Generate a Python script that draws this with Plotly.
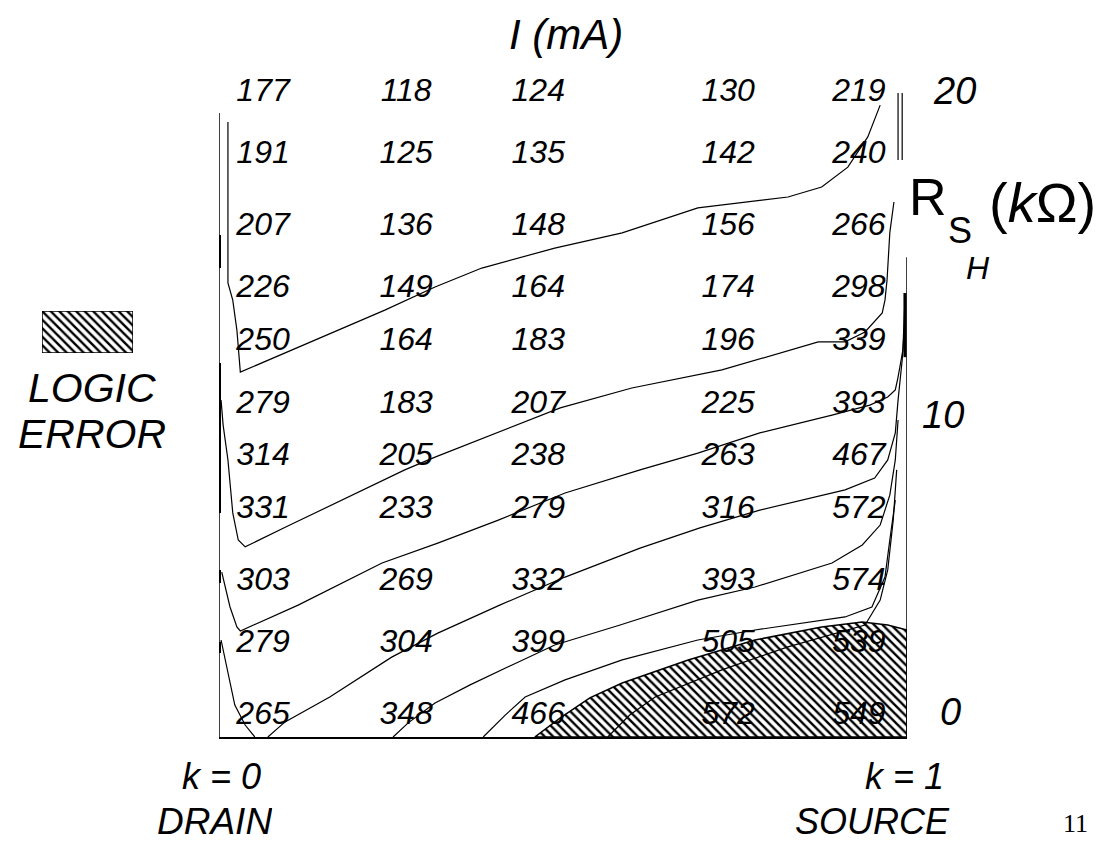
import plotly.graph_objects as go

# ---------------- data ----------------
# position of each column of numbers along k (0 = drain, 1 = source)
k_cols = [0.064, 0.272, 0.464, 0.740, 0.930]
# R_S (kOhm) of each row of numbers, top to bottom
rs_rows = [20, 18, 15.7, 13.7, 12, 10, 8.3, 6.6, 4.3, 2.3, 0]

# I (mA) values, one list per column, top row first
col_1 = [177, 191, 207, 226, 250, 279, 314, 331, 303, 279, 265]
col_2 = [118, 125, 136, 149, 164, 183, 205, 233, 269, 304, 348]
col_3 = [124, 135, 148, 164, 183, 207, 238, 279, 332, 399, 466]
col_4 = [130, 142, 156, 174, 196, 225, 263, 316, 393, 505, 572]
col_5 = [219, 240, 266, 298, 339, 393, 467, 572, 574, 539, 549]

# R_S axis labels
rs_ticks = [0, 10, 20]

# contour lines (k, R_S)
line_a_k = [0.013, 0.013, 0.020, 0.026, 0.031, 0.106, 0.241, 0.314, 0.382, 0.488, 0.586, 0.696, 0.827, 0.876, 0.914, 0.943, 0.961]
line_a_r = [19.07, 13.90, 13.35, 12.39, 11.04, 11.75, 13.03, 13.77, 14.38, 15.02, 15.51, 16.31, 16.66, 16.98, 17.62, 18.59, 19.61]

line_b_k = [0.003, 0.006, 0.013, 0.020, 0.028, 0.038, 0.103, 0.270, 0.314, 0.496, 0.600, 0.731, 0.871, 0.910, 0.939, 0.964, 0.968, 0.971, 0.975, 0.981]
line_b_r = [10.14, 9.34, 8.22, 6.52, 5.65, 5.43, 6.13, 7.90, 8.31, 9.89, 10.53, 11.11, 12.01, 12.01, 12.33, 12.94, 13.35, 14.00, 15.51, 16.50]

line_c_k = [0.004, 0.016, 0.026, 0.031, 0.115, 0.237, 0.318, 0.406, 0.503, 0.612, 0.696, 0.786, 0.891, 0.946, 0.972, 0.983, 0.987, 0.994, 0.997]
line_c_r = [4.62, 3.50, 2.86, 2.73, 3.56, 4.91, 5.55, 6.29, 7.16, 7.90, 8.44, 9.09, 9.66, 9.98, 10.24, 10.47, 10.88, 11.75, 13.35]

line_d_k = [0.071, 0.096, 0.161, 0.251, 0.318, 0.408, 0.503, 0.612, 0.699, 0.786, 0.910, 0.953, 0.972, 0.983, 0.987, 0.993, 0.997]
line_d_r = [-0.674, -0.19, 0.61, 1.89, 2.66, 3.56, 4.46, 5.39, 6.04, 6.61, 7.26, 7.64, 8.22, 9.09, 10.14, 11.43, 12.71]

line_e_k = [0.253, 0.275, 0.314, 0.365, 0.426, 0.488, 0.583, 0.696, 0.779, 0.891, 0.935, 0.961, 0.975, 0.983, 0.987]
line_e_r = [-0.674, -0.22, 0.42, 1.00, 1.64, 2.28, 2.92, 3.72, 4.14, 4.91, 5.49, 6.13, 7.09, 8.22, 9.50]

line_f_k = [0.384, 0.416, 0.445, 0.503, 0.586, 0.696, 0.779, 0.910, 0.949, 0.968, 0.975, 0.983]
line_f_r = [-0.674, 0.03, 0.61, 1.16, 1.80, 2.44, 2.76, 3.18, 3.50, 4.46, 5.65, 6.93]

line_g_k = [0.565, 0.597, 0.634, 0.731, 0.827, 0.900, 0.939, 0.961, 0.972, 0.980, 0.985]
line_g_r = [-0.674, 0.03, 0.61, 1.48, 2.22, 2.66, 2.92, 3.72, 4.69, 6.29, 7.90]

line_i_k = [0.003, 0.013, 0.023, 0.038, 0.052]
line_i_r = [2.44, 1.41, 0.35, -0.29, -0.674]

# boundary of the logic-error region (hatched)
err_k = [0.459, 0.496, 0.539, 0.586, 0.682, 0.779, 0.876, 0.935, 0.972, 1.0]
err_r = [-0.674, -0.06, 0.58, 1.06, 1.80, 2.44, 2.86, 3.02, 2.92, 2.76]

# ---------------- layout constants ----------------
W, H = 1109, 843
R_MIN, R_MAX = -0.674, 20.417
FONT = "Liberation Sans, Arial, sans-serif"
INK = "black"
HATCH = dict(shape="\\", fgcolor=INK, bgcolor="white", fgopacity=1, size=6, solidity=0.4)

fig = go.Figure()

# hatched logic-error region
fig.add_trace(go.Scatter(
    x=err_k + [1.0, err_k[0]], y=err_r + [R_MIN, R_MIN],
    mode="lines", fill="toself", fillcolor="white", fillpattern=HATCH,
    line=dict(color=INK, width=1.5), hoverinfo="skip", showlegend=False))

# contour lines
for lk, lr in [(line_a_k, line_a_r), (line_b_k, line_b_r), (line_c_k, line_c_r),
               (line_d_k, line_d_r), (line_e_k, line_e_r), (line_f_k, line_f_r),
               (line_g_k, line_g_r), (line_i_k, line_i_r)]:
    fig.add_trace(go.Scatter(x=lk, y=lr, mode="lines",
                             line=dict(color=INK, width=1.2),
                             hoverinfo="skip", showlegend=False))

# numbers
tx, ty, tt = [], [], []
for kc, col in zip(k_cols, [col_1, col_2, col_3, col_4, col_5]):
    for r, v in zip(rs_rows, col):
        tx.append(kc)
        ty.append(r)
        tt.append(str(v))
fig.add_trace(go.Scatter(x=tx, y=ty, text=tt, mode="text",
                         textfont=dict(family=FONT, size=32, color=INK, style="italic"),
                         textposition="middle center", cliponaxis=False,
                         hoverinfo="skip", showlegend=False))

# legend swatch (own axes)
fig.add_trace(go.Scatter(
    x=[0, 1, 1, 0, 0], y=[0, 0, 1, 1, 0], xaxis="x2", yaxis="y2",
    mode="lines", fill="toself", fillcolor="white", fillpattern=HATCH,
    line=dict(color=INK, width=1.5), hoverinfo="skip", showlegend=False))

# frame pieces
shapes = []
def seg(x0, y0, x1, y1, w):
    shapes.append(dict(type="line", xref="x", yref="y", x0=x0, y0=y0, x1=x1, y1=y1,
                       line=dict(color=INK, width=w)))
seg(0, R_MIN, 0, 19.36, 1.5)          # left (drain) side
seg(1, R_MIN, 1, 14.73, 1.5)          # right (source) side
seg(0.987, 17.85, 0.987, 20.0, 1.2)   # double line top right
seg(0.993, 17.85, 0.993, 20.0, 1.2)
for a, b in [(14.38, 15.44), (6.52, 11.33), (4.27, 4.69), (2.02, 2.38)]:
    seg(0, a, 0, b, 4)
seg(0.997, 11.52, 0.997, 13.58, 3)

ann = []
def label(text, px, py, size, italic=True, xanchor="center", family=FONT, box_h=None):
    f = dict(family=family, size=size, color=INK)
    if italic:
        f["style"] = "italic"
    a = dict(text=text, x=px / W, y=1 - py / H, xref="paper", yref="paper",
             showarrow=False, xanchor=xanchor, yanchor="middle", font=f)
    if box_h:
        a["height"] = box_h
    ann.append(a)

label("I (mA)", 566, 35, 42)
for t, px, py in zip(rs_ticks, [950, 943, 954], [712, 415, 91]):
    label(str(t), px, py, 38)
label("R", 928, 197, 52, italic=False)
label("S", 960, 230, 36, italic=False)
label("(<i>k</i>Ω)", 1042, 202, 56, italic=False)
label("H", 978, 268, 32)
label("LOGIC", 92, 388, 41, box_h=34)
label("ERROR", 92, 434, 41, box_h=34)
label("k = 0", 221, 776, 36)
label("DRAIN", 214, 821, 37, box_h=32)
label("k = 1", 904, 776, 36)
label("SOURCE", 872, 821, 36, box_h=32)
label("11", 1075, 823, 26, italic=False, family="Liberation Serif, Times New Roman, serif", box_h=26)

hidden = dict(showgrid=False, zeroline=False, showticklabels=False, ticks="", showline=False)
fig.update_layout(
    width=W, height=H, margin=dict(l=0, r=0, t=0, b=0),
    paper_bgcolor="white", plot_bgcolor="white",
    xaxis=dict(domain=[219 / W, 907 / W], range=[0, 1], showgrid=False, zeroline=False,
               showticklabels=False, ticks="", showline=True, linecolor=INK, linewidth=2),
    yaxis=dict(domain=[1 - 737 / H, 1 - 80 / H], range=[R_MIN, R_MAX], **hidden),
    xaxis2=dict(domain=[42 / W, 133 / W], range=[0, 1], anchor="y2", **hidden),
    yaxis2=dict(domain=[1 - 353 / H, 1 - 311 / H], range=[0, 1], anchor="x2", **hidden),
    shapes=shapes, annotations=ann, showlegend=False,
)

fig.write_html("out.html", config={"displayModeBar": False},
               post_script="document.body.style.margin='0';document.body.style.overflow='hidden';")
